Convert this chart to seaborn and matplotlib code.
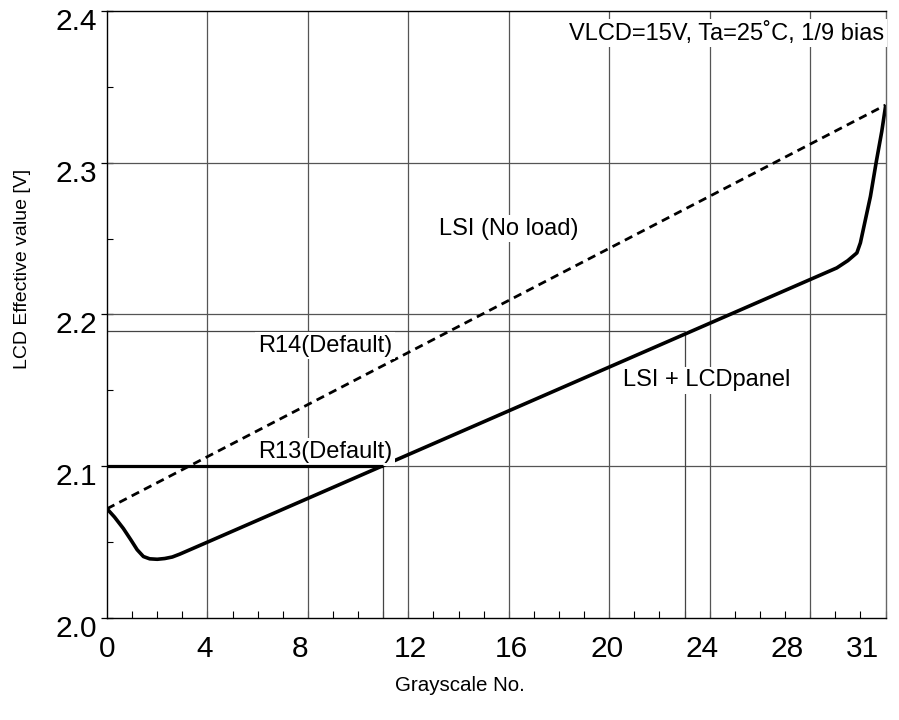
import numpy as np
import pandas as pd
import matplotlib
matplotlib.use("Agg")
import matplotlib.pyplot as plt
from matplotlib.transforms import ScaledTranslation
from matplotlib.ticker import MultipleLocator, FixedLocator
import seaborn as sns

# ---- data ----
gray_panel = [0, 0.3, 0.65, 0.95, 1.2, 1.45, 1.7, 2.0, 2.3, 2.6, 2.9, 4,
              29.06, 29.5, 29.86, 30.0, 30.2, 30.4, 30.63, 30.85, 31]
v_panel = [2.072, 2.0665, 2.0590, 2.0515, 2.0450, 2.0405, 2.0390, 2.0387, 2.0392, 2.0402,
           2.0421, 2.0500, 2.2307, 2.2355, 2.2406, 2.2472, 2.2625, 2.2778, 2.3004, 2.3205, 2.337]
gray_noload = [0, 31]
v_noload = [2.072, 2.338]

r14_gray, r14_v = 23, 2.189
r13_gray, r13_v = 11, 2.100

grid_x = [4, 8, 12, 16, 20, 24, 28]
grid_y = [2.1, 2.2, 2.3]
x_tick_labels = ["0", "4", "8", "12", "16", "20", "24", "28", "31"]
x_label_pos = [0, 3.9, 7.7, 12.1, 16.1, 19.9, 23.7, 27.1, 30.1]
y_ticks = [2.0, 2.1, 2.2, 2.3, 2.4]
y_tick_labels = ["2.0", "2.1", "2.2", "2.3", "2.4"]

label_noload = "LSI (No load)"
label_panel = "LSI + LCDpanel"
label_r14 = "R14(Default)"
label_r13 = "R13(Default)"
cond_text = "VLCD=15V, Ta=25˚C, 1/9 bias"

df_panel = pd.DataFrame({"gray": gray_panel, "v": v_panel})
df_noload = pd.DataFrame({"gray": gray_noload, "v": v_noload})

sns.set_style("white")
plt.rcParams["font.family"] = ["Liberation Sans", "DejaVu Sans"]
for k in ["text.color", "axes.labelcolor", "xtick.color", "ytick.color"]:
    plt.rcParams[k] = "black"

fig = plt.figure(figsize=(8.99, 7.2), dpi=100)
ax = fig.add_axes([107 / 899, 1 - 618 / 720, 778.5 / 899, 607 / 720])

grid_c = "#555555"
for xv in grid_x:
    ax.axvline(xv, color=grid_c, lw=0.9, zorder=1)
for yv in grid_y:
    ax.axhline(yv, color=grid_c, lw=0.9, zorder=1)

sns.lineplot(data=df_noload, x="gray", y="v", ax=ax, color="black", lw=2.0,
             sort=False, zorder=2.2, linestyle=(0, (3, 2)))
sns.lineplot(data=df_panel, x="gray", y="v", ax=ax, color="black", lw=2.6,
             sort=False, zorder=2.2)

# R14 / R13 markers
ax.hlines(r14_v, 0, r14_gray, color="#444444", lw=0.9, zorder=2)
ax.vlines(r14_gray, 2.0, r14_v, color="#444444", lw=0.9, zorder=2)
ax.vlines(r13_gray, 2.0, r13_v, color="#444444", lw=0.9, zorder=2)

bb = dict(boxstyle="square,pad=0.12", fc="white", ec="none")
fs = 17
ax.text(16.0, 2.2566, label_noload, ha="center", va="center", fontsize=fs, bbox=bb, zorder=3)
ax.text(23.86, 2.1566, label_panel, ha="center", va="center", fontsize=fs, bbox=bb, zorder=3)
ax.text(8.68, 2.1795, label_r14, ha="center", va="center", fontsize=fs, bbox=bb, zorder=3)
ax.text(8.68, 2.1095, label_r13, ha="center", va="center", fontsize=fs, bbox=bb, zorder=3)
ax.text(30.93, 2.3855, cond_text, ha="right", va="center", fontsize=fs, bbox=bb, zorder=3)

ax.hlines(r13_v, 0, r13_gray, color="black", lw=2.3, zorder=4)

ax.set_xlim(0, 31)
ax.set_ylim(2.0, 2.4)
ax.xaxis.set_major_locator(FixedLocator(x_label_pos))
ax.set_xticklabels(x_tick_labels)
ax.xaxis.set_minor_locator(MultipleLocator(1))
ax.yaxis.set_major_locator(FixedLocator(y_ticks))
ax.set_yticklabels(y_tick_labels)
ax.yaxis.set_minor_locator(MultipleLocator(0.05))

ax.tick_params(axis="x", which="major", length=0, pad=12, labelsize=21.5)
ax.tick_params(axis="x", which="minor", direction="in", length=5, width=0.8, bottom=True)
ax.tick_params(axis="y", which="major", direction="inout", length=8, width=0.9, pad=3,
               labelsize=21.5, left=True)
ax.tick_params(axis="y", which="minor", direction="in", length=4, width=0.8, left=True)

off = ScaledTranslation(0, -8 / 100, fig.dpi_scale_trans)
for lab in ax.get_yticklabels():
    lab.set_transform(lab.get_transform() + off)

for s in ["left", "bottom", "top"]:
    ax.spines[s].set_color("black")
    ax.spines[s].set_linewidth(1.0)
ax.spines["right"].set_color("#666666")
ax.spines["right"].set_linewidth(1.0)

ax.set_xlabel("Grayscale No.", fontsize=14.8)
ax.set_ylabel("LCD Effective value [V]", fontsize=14)
ax.xaxis.set_label_coords((460 - 107) / 778.5, (618 - 676) / 607)
ax.yaxis.set_label_coords((31 - 107) / 778.5, (618 - 269) / 607)

fig.savefig("out.png", dpi=100)
